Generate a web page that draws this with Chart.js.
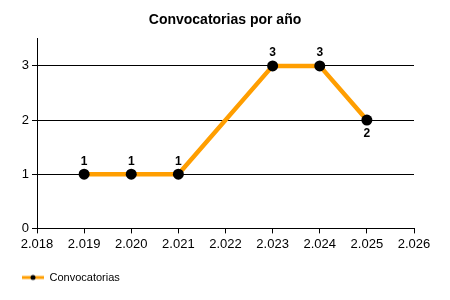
<!DOCTYPE html>
<html>
<head>
<meta charset="utf-8">
<script src="https://cdn.jsdelivr.net/npm/chart.js@4"></script>
<style>
  html, body { margin: 0; padding: 0; background: #fff; }
  #wrap { width: 450px; height: 300px; }
</style>
</head>
<body>
<div id="wrap"><canvas id="convChart"></canvas></div>
<script>
// data
const years = [2019, 2020, 2021, 2023, 2024, 2025];
const convocatorias = [1, 1, 1, 3, 3, 2];
const yTicks = [0, 1, 2, 3];

const FONT = '"Liberation Sans", Arial, sans-serif';
const ORANGE = '#FF9E00';

// small legend marker: orange line with a black dot
function legendMarker() {
    const c = document.createElement('canvas');
    c.width = 22; c.height = 8;
    const g = c.getContext('2d');
    g.strokeStyle = ORANGE;
    g.lineWidth = 3;
    g.beginPath(); g.moveTo(0, 4); g.lineTo(22, 4); g.stroke();
    g.fillStyle = '#000';
    g.beginPath(); g.arc(11, 4, 2.5, 0, Math.PI * 2); g.fill();
    return c;
}

// value labels over the points (last one goes under)
const valueLabels = {
    id: 'valueLabels',
    afterDatasetsDraw(chart) {
        const ctx = chart.ctx;
        const meta = chart.getDatasetMeta(0);
        ctx.save();
        ctx.font = 'bold 12px ' + FONT;
        ctx.fillStyle = '#000';
        ctx.textAlign = 'center';
        meta.data.forEach((pt, i) => {
            const below = i === meta.data.length - 1;
            ctx.textBaseline = below ? 'top' : 'bottom';
            ctx.fillText(String(convocatorias[i]), pt.x, below ? pt.y + 8 : pt.y - 7);
        });
        ctx.restore();
    }
};

const ctx = document.getElementById('convChart').getContext('2d');
new Chart(ctx, {
    type: 'line',
    data: {
        datasets: [{
            label: 'Convocatorias',
            data: years.map((y, i) => ({ x: y, y: convocatorias[i] })),
            borderColor: ORANGE,
            borderWidth: 4.5,
            pointBackgroundColor: '#000',
            pointBorderColor: '#000',
            pointBorderWidth: 0,
            pointRadius: 5.5,
            pointStyle: 'circle',
            fill: false,
            tension: 0
        }]
    },
    options: {
        responsive: true,
        maintainAspectRatio: false,
        animation: false,
        layout: { padding: { left: 0, right: 0, top: 0, bottom: 7 } },
        plugins: {
            title: {
                display: true,
                text: 'Convocatorias por año',
                color: '#000',
                font: { family: FONT, size: 14, weight: 'bold' },
                padding: { top: 12, bottom: 10 }
            },
            legend: {
                position: 'bottom',
                align: 'start',
                labels: {
                    color: '#000',
                    padding: 22,
                    pointStyleWidth: 22,
                    font: { family: FONT, size: 11 },
                    usePointStyle: true,
                    generateLabels(chart) {
                        return [{
                            text: 'Convocatorias',
                            pointStyle: legendMarker(),
                            fontColor: '#000',
                            datasetIndex: 0
                        }];
                    }
                }
            },
            tooltip: { enabled: false }
        },
        scales: {
            x: {
                type: 'linear',
                min: 2018,
                max: 2026,
                afterFit: scale => { scale.height -= 5; },
                ticks: {
                    stepSize: 1,
                    color: '#000',
                    maxRotation: 0,
                    font: { family: FONT, size: 13 },
                    callback: v => String(v).replace(/^(\d)(\d{3})$/, '$1.$2')
                },
                grid: { drawOnChartArea: false, drawTicks: true, tickLength: 5, color: '#000' },
                border: { color: '#000', width: 1 }
            },
            y: {
                min: 0,
                max: 3.5,
                afterBuildTicks: scale => { scale.ticks = yTicks.map(v => ({ value: v })); },
                afterFit: scale => { scale.width = 37; },
                ticks: {
                    color: '#000',
                    font: { family: FONT, size: 13 }
                },
                grid: { color: '#000', drawTicks: true, tickLength: 5 },
                border: { color: '#000', width: 1 }
            },
            // empty right axis, only to keep the right margin
            yRight: {
                position: 'right',
                min: 0,
                max: 1,
                afterFit: scale => { scale.width = 36; },
                ticks: { display: false },
                grid: { display: false },
                border: { display: false }
            }
        }
    },
    plugins: [valueLabels]
});
</script>
</body>
</html>
